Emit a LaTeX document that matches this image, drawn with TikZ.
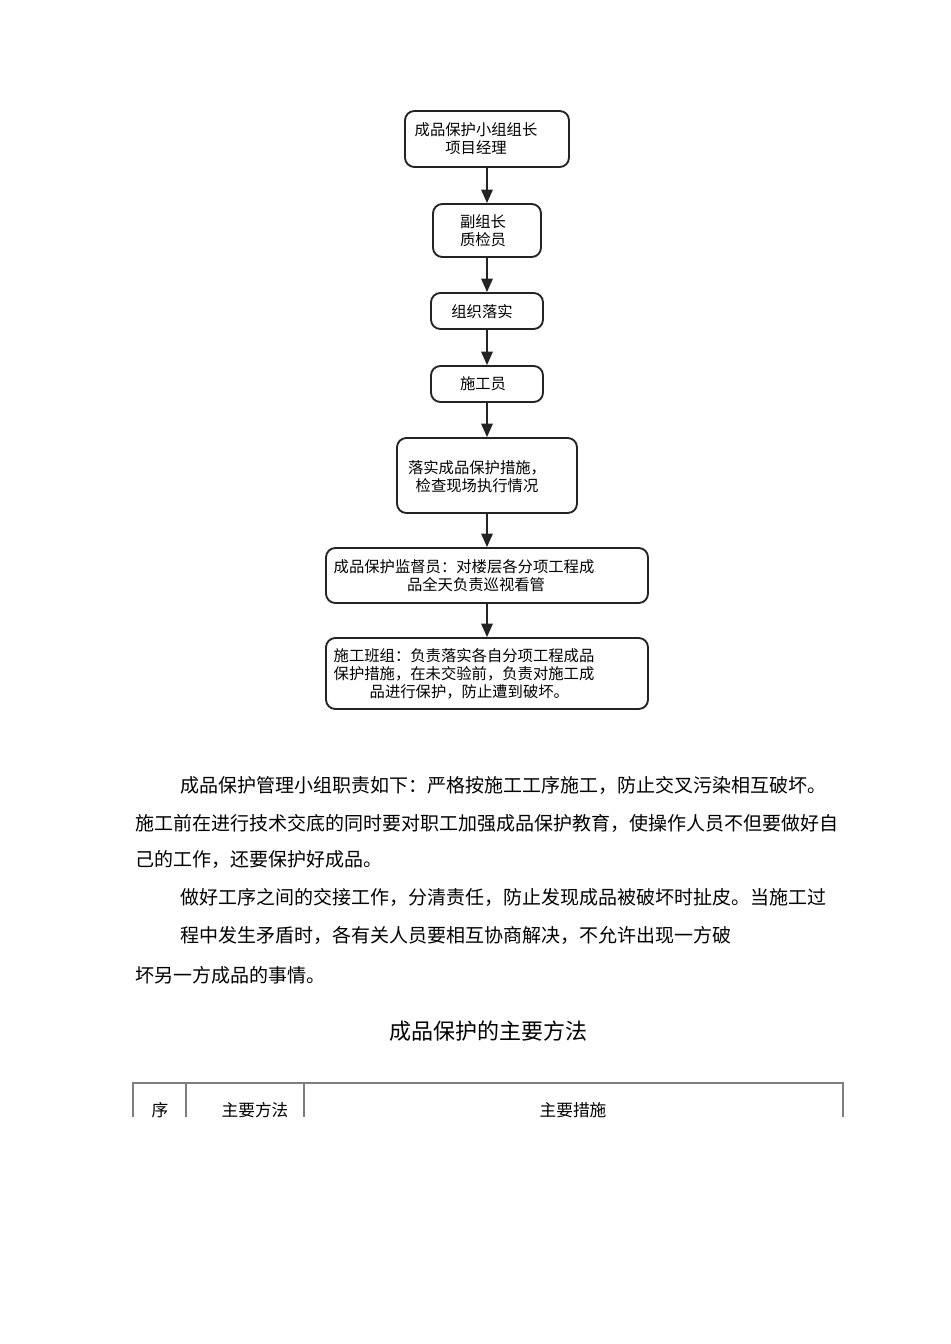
\documentclass[tikz,border=0pt]{standalone}
\usepackage{fontspec}
\setmainfont{Noto Sans CJK SC}
\usetikzlibrary{arrows.meta,positioning}
\definecolor{boxline}{RGB}{35,35,35}
\definecolor{tabline}{RGB}{125,125,125}

\begin{document}
\begin{tikzpicture}[x=0.75pt, y=-0.75pt,
  flowbox/.style={draw=boxline, line width=1.4pt, rounded corners=7pt, inner sep=0pt},
  boxtext/.style={font=\fontsize{11.5}{13.5}\selectfont, align=center, inner sep=0pt},
  bodytext/.style={font=\fontsize{14.25}{18}\selectfont, anchor=west, inner sep=0pt},
  tabtext/.style={font=\fontsize{12.5}{15}\selectfont, inner sep=0pt},
  flowarrow/.style={draw=boxline, line width=1.4pt, -{Triangle[length=10pt,width=8.5pt]}}]
\useasboundingbox (0,0) rectangle (950,1344);

% flow boxes
\node[flowbox, minimum width=123pt, minimum height=42pt] (leader) at (487,139) {};
\node[flowbox, minimum width=81pt, minimum height=39.75pt] (deputy) at (487,230.5) {};
\node[flowbox, minimum width=84pt, minimum height=27pt] (organize) at (487,311) {};
\node[flowbox, minimum width=84pt, minimum height=27pt] (builder) at (487,384) {};
\node[flowbox, minimum width=135pt, minimum height=56.25pt] (measures) at (487,475.5) {};
\node[flowbox, minimum width=241.5pt, minimum height=41.25pt] (supervisor) at (487,575.5) {};
\node[flowbox, minimum width=241.5pt, minimum height=53.25pt] (crew) at (487,673.5) {};

% box texts
\node[boxtext] (leadertxt) at (476,139) {成品保护小组组长\\项目经理};
\node[boxtext] (deputytxt) at (483,231) {副组长\\质检员};
\node[boxtext] (organizetxt) at (482,312) {组织落实};
\node[boxtext] (buildertxt) at (483,384) {施工员};
\node[boxtext] (measurestxt) at (477,476.5) {落实成品保护措施，\\检查现场执行情况};
\node[boxtext, text width=198pt] (supervisortxt) at (464,576) {成品保护监督员：对楼层各分项工程成\\\hspace*{18pt}品全天负责巡视看管};
\node[boxtext, text width=198pt] (crewtxt) at (464,674) {施工班组：负责落实各自分项工程成品\\保护措施，在未交验前，负责对施工成\\\hspace*{8pt}品进行保护，防止遭到破坏。};

% arrows
\draw[flowarrow] (leader) -- (deputy);
\draw[flowarrow] (deputy) -- (organize);
\draw[flowarrow] (organize) -- (builder);
\draw[flowarrow] (builder) -- (measures);
\draw[flowarrow] (measures) -- (supervisor);
\draw[flowarrow] (supervisor) -- (crew);

% body paragraph
\node[bodytext] (line1) at (180,785) {成品保护管理小组职责如下：严格按施工工序施工，防止交叉污染相互破坏。};
\node[bodytext] (line2) at (135,823) {施工前在进行技术交底的同时要对职工加强成品保护教育，使操作人员不但要做好自};
\node[bodytext] (line3) at (135,859) {己的工作，还要保护好成品。};
\node[bodytext] (line4) at (180,897) {做好工序之间的交接工作，分清责任，防止发现成品被破坏时扯皮。当施工过};
\node[bodytext] (line5) at (180,935) {程中发生矛盾时，各有关人员要相互协商解决，不允许出现一方破};
\node[bodytext] (line6) at (135,975) {坏另一方成品的事情。};

% table title and head
\node[font=\fontsize{16.5}{20}\selectfont, inner sep=0pt] (title) at (488,1031) {成品保护的主要方法};
\draw[tabline, line width=0.8pt] (133,1117) -- (133,1083) -- (843,1083) -- (843,1117);
\draw[tabline, line width=0.8pt] (186,1083) -- (186,1117);
\draw[tabline, line width=0.8pt] (304,1083) -- (304,1117);
\node[tabtext] (colno) at (160,1110) {序};
\node[tabtext] (colmethod) at (255,1110) {主要方法};
\node[tabtext] (colmeasure) at (573,1110) {主要措施};
\end{tikzpicture}
\end{document}
